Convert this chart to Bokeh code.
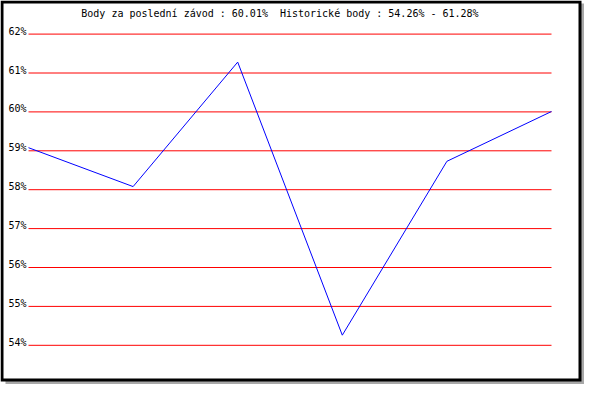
from bokeh.plotting import figure
from bokeh.models import Range1d
from bokeh.core.properties import value
from bokeh.embed import file_html
from bokeh.resources import INLINE

# ---- data ----
races = [1, 2, 3, 4, 5, 6]
points = [59.08, 58.08, 61.28, 54.26, 58.73, 60.01]
tick_values = [54, 55, 56, 57, 58, 59, 60, 61, 62]
tick_labels = ["54%", "55%", "56%", "57%", "58%", "59%", "60%", "61%", "62%"]
title_left = "Body za poslední závod : %.2f%%" % points[-1]
title_right = "Historické body : %.2f%% - %.2f%%" % (min(points), max(points))

# ---- layout (pixels) ----
W, H = 584, 384
X0_PX, X1_PX = 28.0, 551.0          # first / last race
YTOP_PX, YBOT_PX = 33.6, 344.8      # 62% / 54% lines
FONT = value("DejaVu Sans Mono")
CHAR_W = 6.02                       # DejaVu Sans Mono advance at 10px
TITLE_X, TITLE_Y = 80.8, 12.5

n = len(races)
xstep = (X1_PX - X0_PX) / (n - 1)
x_start = races[0] - X0_PX / xstep
x_end = races[-1] + (W - X1_PX) / xstep
vmax, vmin = tick_values[-1], tick_values[0]
ystep = (YBOT_PX - YTOP_PX) / (vmax - vmin)
y_end = vmax + YTOP_PX / ystep
y_start = vmax - (H - YTOP_PX) / ystep

p = figure(width=W, height=H, output_backend="svg", toolbar_location=None,
           x_range=Range1d(x_start, x_end), y_range=Range1d(y_start, y_end),
           x_axis_location=None, y_axis_location=None, min_border=0,
           background_fill_color="white", border_fill_color="white")
p.outline_line_color = None
p.grid.visible = False

p.extra_x_ranges["px"] = Range1d(0, W)
p.extra_y_ranges["px"] = Range1d(H, 0)

# shadow and frame
p.quad(left=[5], right=[W], top=[3], bottom=[H], fill_color="#a8a8a8",
       line_color=None, x_range_name="px", y_range_name="px")
p.quad(left=[1.5], right=[W - 4.5], top=[1.5], bottom=[H - 4.5],
       fill_color="white", line_color="black", line_width=3,
       line_join="miter", x_range_name="px", y_range_name="px")

# grid lines
p.segment(x0=[races[0]] * len(tick_values), x1=[races[-1]] * len(tick_values),
          y0=tick_values, y1=tick_values, line_color="#ff0000", line_width=1)

# data line
p.line(races, points, line_color="#0000ff", line_width=1)

# tick labels
p.text(x=[races[0]] * len(tick_values), y=tick_values, text=tick_labels,
       x_offset=-2, y_offset=-3, text_align="right", text_baseline="alphabetic",
       text_font=FONT, text_font_size="10px", text_color="black")

# title (two parts, separated by two character cells)
p.text(x=[TITLE_X, TITLE_X + (len(title_left) + 2) * CHAR_W], y=[TITLE_Y, TITLE_Y],
       text=[title_left, title_right], text_align="left",
       text_baseline="middle", text_font=FONT, text_font_size="10px",
       text_color="black", x_range_name="px", y_range_name="px")

open("out.html", "w").write(file_html(p, INLINE))
